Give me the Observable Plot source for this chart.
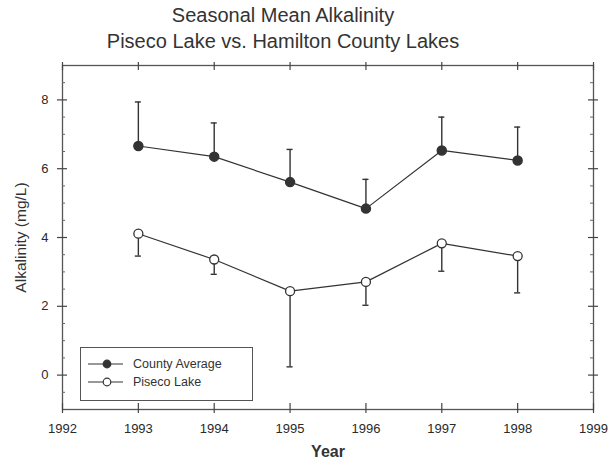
<!DOCTYPE html>
<html>
<head>
<meta charset="utf-8">
<script src="https://cdn.jsdelivr.net/npm/d3@7"></script>
<script src="https://cdn.jsdelivr.net/npm/@observablehq/plot@0.6"></script>
<style>
  body { margin: 0; background: #fff; font-family: "Liberation Sans", Arial, sans-serif; }
  #wrap { position: relative; width: 612px; height: 468px; overflow: hidden; }
  #title { height: 55px; width: 566px; text-align: center; font-size: 20px; line-height: 26px; color: #333; padding-top: 2px; box-sizing: border-box; }
  #legend { position: absolute; left: 80px; top: 347px; width: 173px; height: 54px; border: 1.5px solid #555; box-sizing: border-box; background: #fff; }
  #legend svg { display: block; }
</style>
</head>
<body>
<div id="wrap">
  <div id="title">Seasonal Mean Alkalinity<br>Piseco Lake vs. Hamilton County Lakes</div>
  <div id="chart"></div>
  <div id="legend"></div>
</div>
<script>
// ---- data ----
const years = [1993, 1994, 1995, 1996, 1997, 1998];
const countyMean  = [6.66, 6.35, 5.61, 4.84, 6.53, 6.24];
const countyUpper = [7.94, 7.33, 6.56, 5.69, 7.50, 7.21];
const pisecoMean  = [4.11, 3.36, 2.44, 2.71, 3.83, 3.46];
const pisecoLower = [3.46, 2.93, 0.24, 2.03, 3.02, 2.39];
const xTicks = [1992, 1993, 1994, 1995, 1996, 1997, 1998, 1999];
const yTicks = [0, 2, 4, 6, 8];
const yMinor = [-0.5, 0.5, 1, 1.5, 2.5, 3, 3.5, 4.5, 5, 5.5, 6.5, 7, 7.5, 8.5];
const seriesNames = ["County Average", "Piseco Lake"];

const county = years.map((year, i) => ({year, mean: countyMean[i], bar: countyUpper[i]}));
const piseco = years.map((year, i) => ({year, mean: pisecoMean[i], bar: pisecoLower[i]}));

const W = 612, H = 413, mT = 10, mB = 59, mL = 62, mR = 19;
const innerW = W - mL - mR, innerH = H - mT - mB;
const ink = "#333";
const capHalf = 0.04;

const chart = Plot.plot({
  width: W, height: H,
  marginTop: mT, marginBottom: mB, marginLeft: mL, marginRight: mR,
  style: {fontFamily: '"Liberation Sans", Arial, sans-serif', color: ink, background: "#fff"},
  x: {domain: [1992, 1999], axis: null},
  y: {domain: [-1, 9], axis: null},
  marks: [
    Plot.frame({stroke: "#555", strokeWidth: 1.3}),
    // x ticks (bottom & top)
    Plot.ruleX(xTicks, {x: d => d, insetTop: innerH - 6, insetBottom: -4, stroke: "#444", strokeWidth: 1.2}),
    Plot.ruleX(xTicks, {x: d => d, insetBottom: innerH - 5, insetTop: -3, stroke: "#444", strokeWidth: 1.2}),
    // y ticks (left & right)
    Plot.ruleY(yTicks, {y: d => d, insetLeft: -5, insetRight: innerW - 5, stroke: "#444", strokeWidth: 1.2}),
    Plot.ruleY(yMinor, {y: d => d, insetRight: innerW - 3, stroke: "#666"}),
    Plot.ruleY(yTicks, {y: d => d, insetRight: -5, insetLeft: innerW - 5, stroke: "#444", strokeWidth: 1.2}),
    Plot.ruleY(yMinor, {y: d => d, insetLeft: innerW - 3, stroke: "#666"}),
    // tick labels
    Plot.axisX(xTicks, {anchor: "bottom", label: null, tickSize: 0, tickPadding: 14, tickFormat: d => `${d}`, fontSize: 13, fill: "#2a2a2a"}),
    Plot.axisY(yTicks, {anchor: "left", label: null, tickSize: 0, tickPadding: 14, tickFormat: d => `${d}`, fontSize: 13, fill: "#2a2a2a"}),
    // axis titles
    Plot.text(["Year"], {frameAnchor: "bottom", dy: 47, fontSize: 16, fontWeight: "bold", fill: ink}),
    Plot.text(["Alkalinity (mg/L)"], {frameAnchor: "left", textAnchor: "middle", dx: -41, rotate: -90, fontSize: 15.5, fill: ink}),
    // County average: upward error bars
    Plot.ruleX(county, {x: "year", y1: "mean", y2: "bar", stroke: ink, strokeWidth: 1.4}),
    Plot.ruleY(county, {y: "bar", x1: d => d.year - capHalf, x2: d => d.year + capHalf, stroke: ink, strokeWidth: 1.4}),
    Plot.line(county, {x: "year", y: "mean", stroke: ink, strokeWidth: 1.2}),
    Plot.dot(county, {x: "year", y: "mean", r: 4.5, fill: ink, stroke: ink}),
    // Piseco Lake: downward error bars
    Plot.ruleX(piseco, {x: "year", y1: "mean", y2: "bar", stroke: ink, strokeWidth: 1.4}),
    Plot.ruleY(piseco, {y: "bar", x1: d => d.year - capHalf, x2: d => d.year + capHalf, stroke: ink, strokeWidth: 1.4}),
    Plot.line(piseco, {x: "year", y: "mean", stroke: ink, strokeWidth: 1.2}),
    Plot.dot(piseco, {x: "year", y: "mean", r: 4.5, fill: "#fff", stroke: ink, strokeWidth: 1.3})
  ]
});
document.getElementById("chart").appendChild(chart);

// legend
const lg = d3.select("#legend").append("svg").attr("width", 170).attr("height", 51);
seriesNames.forEach((name, i) => {
  const y = 16 + i * 18;
  lg.append("line").attr("x1", 7).attr("x2", 42).attr("y1", y).attr("y2", y).attr("stroke", ink).attr("stroke-width", 1.2);
  lg.append("circle").attr("cx", 26).attr("cy", y).attr("r", 3.8)
    .attr("fill", i === 0 ? ink : "#fff").attr("stroke", ink).attr("stroke-width", 1.2);
  lg.append("text").attr("x", 52).attr("y", y).attr("dy", "0.35em")
    .attr("font-size", 12.5).attr("fill", ink).attr("font-family", '"Liberation Sans", Arial, sans-serif')
    .text(name);
});
</script>
</body>
</html>
